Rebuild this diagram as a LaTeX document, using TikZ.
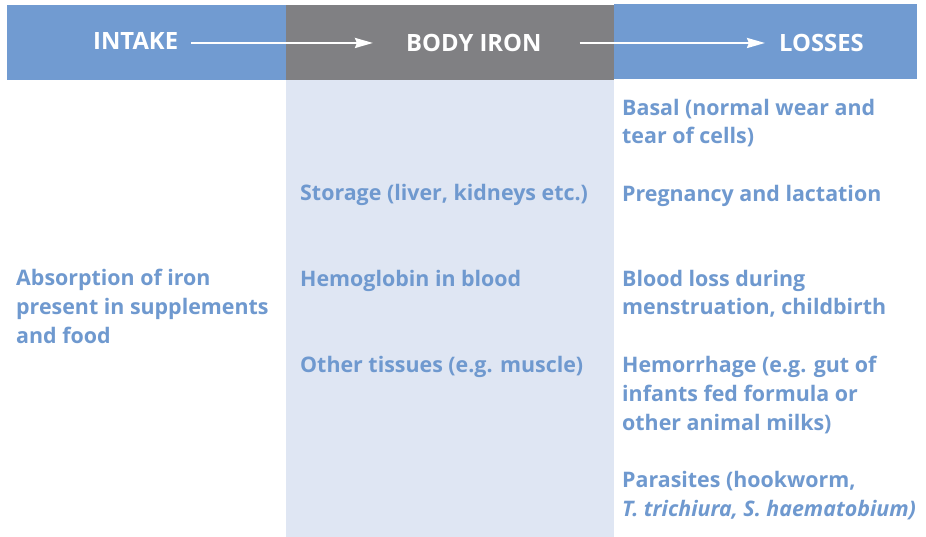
\documentclass[tikz,border=0pt]{standalone}
\usepackage{fontspec}
\setmainfont{Open Sans}
\usetikzlibrary{arrows.meta}
\definecolor{hdrblue}{HTML}{719BD1}
\definecolor{hdrgray}{HTML}{808083}
\definecolor{pale}{HTML}{DFE6F3}
\definecolor{txtblue}{HTML}{6F99CF}
\tikzset{
  hdr/.style={font=\bfseries\fontsize{23.8}{26}\selectfont, text=white, inner sep=0pt, anchor=base west},
  body/.style={font=\bfseries\fontsize{21.4}{28.6}\selectfont, text=txtblue, inner sep=0pt, anchor=base west, align=left},
  flow/.style={white, line width=2.4pt, -{Stealth[length=18pt,width=10pt,inset=2pt]}}
}
\begin{document}
\begin{tikzpicture}[x=1pt,y=-1pt]
\useasboundingbox (0,0) rectangle (926,537);
\fill[white] (0,0) rectangle (926,537);
% bands
\fill[hdrblue] (7,5) rectangle (286,80);
\fill[hdrgray] (286,5) rectangle (614,80);
\fill[hdrblue] (614,4) rectangle (917,79);
\fill[pale] (286,80) rectangle (614,537);
% header labels
\node[hdr] (intake) at (93,50) {INTAKE};
\node[hdr] (bodyiron) at (406,51.5) {BODY IRON};
\node[hdr] (losses) at (779,51.5) {LOSSES};
\draw[flow] ([xshift=13pt,yshift=-1.5pt]intake.east) -- ([xshift=-33pt,yshift=-1.5pt]intake.east -| bodyiron.west);
\draw[flow] ([xshift=38pt]bodyiron.east) -- ([xshift=-14pt]bodyiron.east -| losses.west);
% intake column
\node[body] (absorb) at (16,343) {Absorption of iron\\present in supplements\\and food};
% body iron column
\node[body] (storage) at (300,200.5) {Storage (liver, kidneys etc.)};
\node[body] (hemo) at (300,286.5) {Hemoglobin in blood};
\node[body] (other) at (300,372.5) {Other tissues (e.g. muscle)};
% losses column
\node[body] (basal) at (622,144) {Basal (normal wear and\\tear of cells)};
\node[body] (preg) at (622,201.5) {Pregnancy and lactation};
\node[body] (blood) at (622,315) {Blood loss during\\menstruation, childbirth};
\node[body] (hemorr) at (622,430) {Hemorrhage (e.g. gut of\\infants fed formula or\\other animal milks)};
\node[body] (para) at (622,516) {Parasites (hookworm,\\\textit{T. trichiura, S. haematobium)}};
\end{tikzpicture}
\end{document}
